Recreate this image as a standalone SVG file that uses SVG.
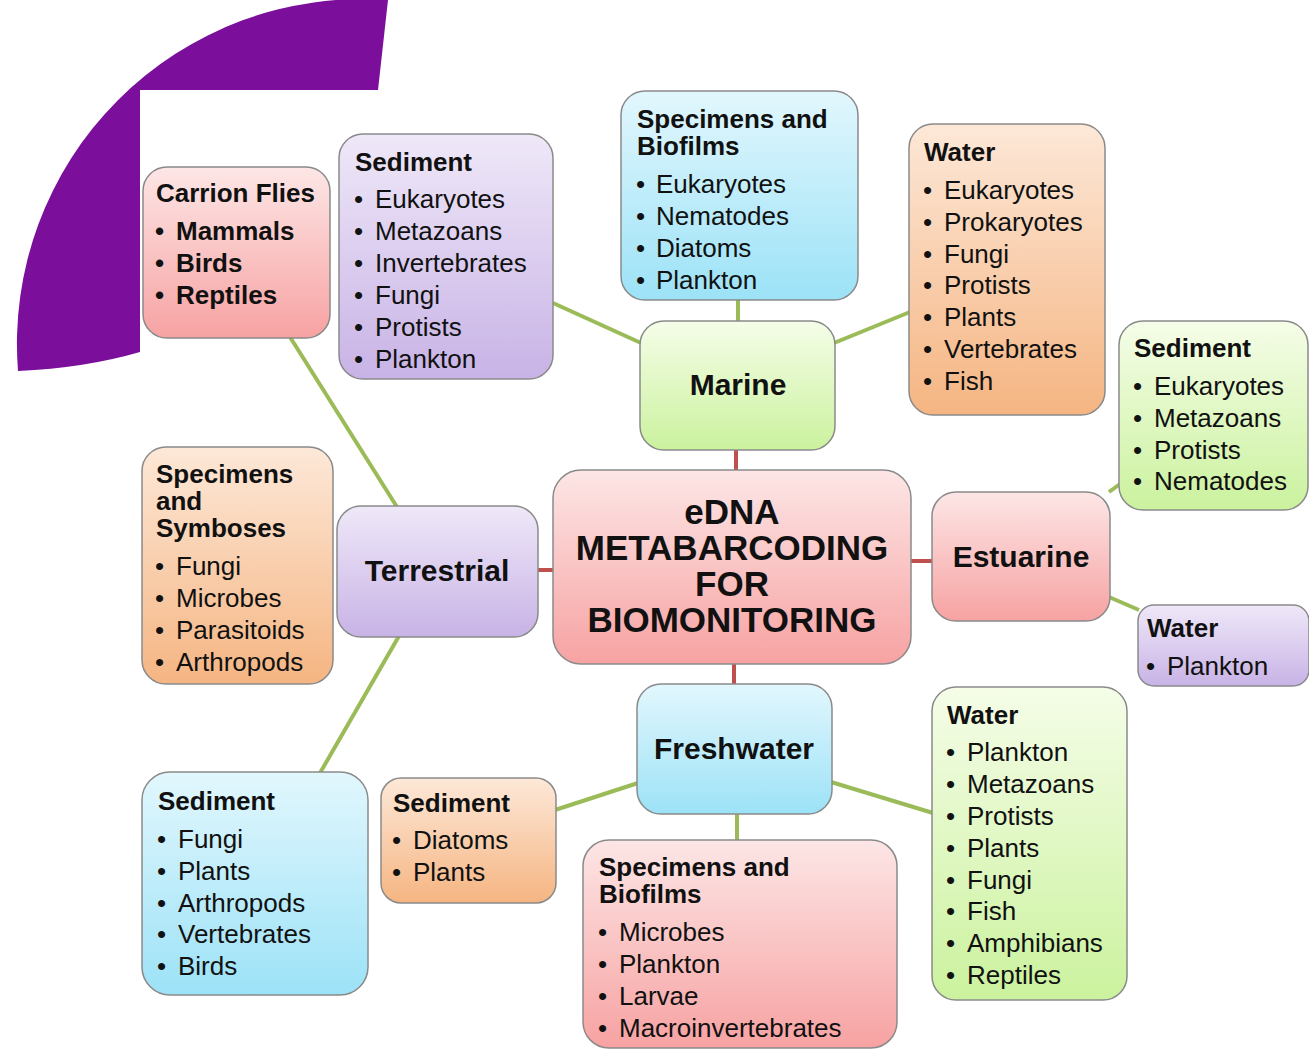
<svg xmlns="http://www.w3.org/2000/svg" width="1309" height="1050" viewBox="0 0 1309 1050">
<defs>
<linearGradient id="gPink" x1="0" y1="0" x2="0" y2="1"><stop offset="0" stop-color="#fde6e6"/><stop offset="1" stop-color="#f7a2a2"/></linearGradient>
<linearGradient id="gPurple" x1="0" y1="0" x2="0" y2="1"><stop offset="0" stop-color="#efe8f8"/><stop offset="1" stop-color="#c8b3e6"/></linearGradient>
<linearGradient id="gBlue" x1="0" y1="0" x2="0" y2="1"><stop offset="0" stop-color="#e2f7fd"/><stop offset="1" stop-color="#9ce2f7"/></linearGradient>
<linearGradient id="gOrange" x1="0" y1="0" x2="0" y2="1"><stop offset="0" stop-color="#fde8d8"/><stop offset="1" stop-color="#f5b582"/></linearGradient>
<linearGradient id="gGreen" x1="0" y1="0" x2="0" y2="1"><stop offset="0" stop-color="#f5fde8"/><stop offset="1" stop-color="#cbf29e"/></linearGradient>
</defs>
<style>
.box{stroke:#8a8a8a;stroke-width:1.5}
.t{font-family:"Liberation Sans",Arial,sans-serif;font-size:26px;fill:#111}
.h{font-weight:bold}
.big{font-family:"Liberation Sans",Arial,sans-serif;font-size:30px;font-weight:bold;fill:#111;text-anchor:middle}
.c{font-size:35px}
.g{stroke:#9bbb59;stroke-width:4;fill:none}
.r{stroke:#c0504d;stroke-width:4;fill:none}
</style>
<rect width="1309" height="1050" fill="#ffffff"/>
<path d="M388,0 L378,90 L140,90 L140,352 Q85,368 18,371 A345,345 0 0 1 388,0 Z" fill="#7b0f9b"/>
<g id="connectors">
<line class="r" x1="736" y1="450" x2="736" y2="471"/>
<line class="r" x1="538" y1="570" x2="554" y2="570"/>
<line class="r" x1="910" y1="561" x2="933" y2="561"/>
<line class="r" x1="734" y1="663" x2="734" y2="685"/>
<line class="g" x1="553" y1="303" x2="641" y2="343"/>
<line class="g" x1="738" y1="299" x2="738" y2="322"/>
<line class="g" x1="834" y1="343" x2="910" y2="312"/>
<line class="g" x1="290" y1="337" x2="397" y2="507"/>
<line class="g" x1="399" y1="636" x2="320" y2="773"/>
<line class="g" x1="1109" y1="492" x2="1120" y2="484"/>
<line class="g" x1="1109" y1="597" x2="1139" y2="610"/>
<line class="g" x1="555" y1="810" x2="638" y2="783"/>
<line class="g" x1="737" y1="813" x2="737" y2="841"/>
<line class="g" x1="831" y1="782" x2="933" y2="813"/>
</g>
<g id="carrion-flies">
<rect class="box" x="143" y="167" width="187" height="171" rx="24" fill="url(#gPink)"/>
<text class="t h" x="156" y="202">Carrion Flies</text>
<text class="t h" x="155" y="240">•<tspan x="176">Mammals</tspan></text>
<text class="t h" x="155" y="272">•<tspan x="176">Birds</tspan></text>
<text class="t h" x="155" y="304">•<tspan x="176">Reptiles</tspan></text>
</g>
<g id="marine-sediment">
<rect class="box" x="339" y="134" width="214" height="245" rx="24" fill="url(#gPurple)"/>
<text class="t h" x="355" y="171">Sediment</text>
<text class="t" x="354" y="208">•<tspan x="375">Eukaryotes</tspan></text>
<text class="t" x="354" y="240">•<tspan x="375">Metazoans</tspan></text>
<text class="t" x="354" y="272">•<tspan x="375">Invertebrates</tspan></text>
<text class="t" x="354" y="304">•<tspan x="375">Fungi</tspan></text>
<text class="t" x="354" y="336">•<tspan x="375">Protists</tspan></text>
<text class="t" x="354" y="368">•<tspan x="375">Plankton</tspan></text>
</g>
<g id="marine-specimens">
<rect class="box" x="621" y="91" width="237" height="209" rx="24" fill="url(#gBlue)"/>
<text class="t h" x="637" y="128">Specimens and</text>
<text class="t h" x="637" y="155">Biofilms</text>
<text class="t" x="636" y="193">•<tspan x="656">Eukaryotes</tspan></text>
<text class="t" x="636" y="225">•<tspan x="656">Nematodes</tspan></text>
<text class="t" x="636" y="257">•<tspan x="656">Diatoms</tspan></text>
<text class="t" x="636" y="289">•<tspan x="656">Plankton</tspan></text>
</g>
<g id="marine-water">
<rect class="box" x="909" y="124" width="196" height="291" rx="24" fill="url(#gOrange)"/>
<text class="t h" x="924" y="161">Water</text>
<text class="t" x="923" y="199">•<tspan x="944">Eukaryotes</tspan></text>
<text class="t" x="923" y="231">•<tspan x="944">Prokaryotes</tspan></text>
<text class="t" x="923" y="263">•<tspan x="944">Fungi</tspan></text>
<text class="t" x="923" y="294">•<tspan x="944">Protists</tspan></text>
<text class="t" x="923" y="326">•<tspan x="944">Plants</tspan></text>
<text class="t" x="923" y="358">•<tspan x="944">Vertebrates</tspan></text>
<text class="t" x="923" y="390">•<tspan x="944">Fish</tspan></text>
</g>
<g id="marine">
<rect class="box" x="640" y="321" width="195" height="129" rx="24" fill="url(#gGreen)"/>
<text class="big" x="738" y="395">Marine</text>
</g>
<g id="estuarine-sediment">
<rect class="box" x="1119" y="321" width="189" height="189" rx="24" fill="url(#gGreen)"/>
<text class="t h" x="1134" y="357">Sediment</text>
<text class="t" x="1133" y="395">•<tspan x="1154">Eukaryotes</tspan></text>
<text class="t" x="1133" y="427">•<tspan x="1154">Metazoans</tspan></text>
<text class="t" x="1133" y="459">•<tspan x="1154">Protists</tspan></text>
<text class="t" x="1133" y="490">•<tspan x="1154">Nematodes</tspan></text>
</g>
<g id="terrestrial-specimens">
<rect class="box" x="142" y="447" width="191" height="237" rx="24" fill="url(#gOrange)"/>
<text class="t h" x="156" y="483">Specimens</text>
<text class="t h" x="156" y="510">and</text>
<text class="t h" x="156" y="537">Symboses</text>
<text class="t" x="155" y="575">•<tspan x="176">Fungi</tspan></text>
<text class="t" x="155" y="607">•<tspan x="176">Microbes</tspan></text>
<text class="t" x="155" y="639">•<tspan x="176">Parasitoids</tspan></text>
<text class="t" x="155" y="671">•<tspan x="176">Arthropods</tspan></text>
</g>
<g id="terrestrial">
<rect class="box" x="337" y="506" width="201" height="131" rx="24" fill="url(#gPurple)"/>
<text class="big" x="437" y="581">Terrestrial</text>
</g>
<g id="center">
<rect class="box" x="553" y="470" width="358" height="194" rx="28" fill="url(#gPink)"/>
<text class="big c" x="732" y="524">eDNA</text>
<text class="big c" x="732" y="560">METABARCODING</text>
<text class="big c" x="732" y="596">FOR</text>
<text class="big c" x="732" y="632">BIOMONITORING</text>
</g>
<g id="estuarine">
<rect class="box" x="932" y="492" width="178" height="129" rx="24" fill="url(#gPink)"/>
<text class="big" x="1021" y="567">Estuarine</text>
</g>
<g id="estuarine-water">
<rect class="box" x="1138" y="605" width="171" height="81" rx="16" fill="url(#gPurple)"/>
<text class="t h" x="1147" y="637">Water</text>
<text class="t" x="1146" y="675">•<tspan x="1167">Plankton</tspan></text>
</g>
<g id="freshwater">
<rect class="box" x="637" y="684" width="195" height="130" rx="24" fill="url(#gBlue)"/>
<text class="big" x="734" y="759">Freshwater</text>
</g>
<g id="freshwater-water">
<rect class="box" x="932" y="687" width="195" height="313" rx="24" fill="url(#gGreen)"/>
<text class="t h" x="947" y="724">Water</text>
<text class="t" x="946" y="761">•<tspan x="967">Plankton</tspan></text>
<text class="t" x="946" y="793">•<tspan x="967">Metazoans</tspan></text>
<text class="t" x="946" y="825">•<tspan x="967">Protists</tspan></text>
<text class="t" x="946" y="857">•<tspan x="967">Plants</tspan></text>
<text class="t" x="946" y="889">•<tspan x="967">Fungi</tspan></text>
<text class="t" x="946" y="920">•<tspan x="967">Fish</tspan></text>
<text class="t" x="946" y="952">•<tspan x="967">Amphibians</tspan></text>
<text class="t" x="946" y="984">•<tspan x="967">Reptiles</tspan></text>
</g>
<g id="terrestrial-sediment">
<rect class="box" x="142" y="772" width="226" height="223" rx="28" fill="url(#gBlue)"/>
<text class="t h" x="158" y="810">Sediment</text>
<text class="t" x="157" y="848">•<tspan x="178">Fungi</tspan></text>
<text class="t" x="157" y="880">•<tspan x="178">Plants</tspan></text>
<text class="t" x="157" y="912">•<tspan x="178">Arthropods</tspan></text>
<text class="t" x="157" y="943">•<tspan x="178">Vertebrates</tspan></text>
<text class="t" x="157" y="975">•<tspan x="178">Birds</tspan></text>
</g>
<g id="freshwater-sediment">
<rect class="box" x="381" y="778" width="175" height="125" rx="20" fill="url(#gOrange)"/>
<text class="t h" x="393" y="812">Sediment</text>
<text class="t" x="392" y="849">•<tspan x="413">Diatoms</tspan></text>
<text class="t" x="392" y="881">•<tspan x="413">Plants</tspan></text>
</g>
<g id="freshwater-specimens">
<rect class="box" x="583" y="840" width="314" height="208" rx="26" fill="url(#gPink)"/>
<text class="t h" x="599" y="876">Specimens and</text>
<text class="t h" x="599" y="903">Biofilms</text>
<text class="t" x="598" y="941">•<tspan x="619">Microbes</tspan></text>
<text class="t" x="598" y="973">•<tspan x="619">Plankton</tspan></text>
<text class="t" x="598" y="1005">•<tspan x="619">Larvae</tspan></text>
<text class="t" x="598" y="1037">•<tspan x="619">Macroinvertebrates</tspan></text>
</g>
</svg>
